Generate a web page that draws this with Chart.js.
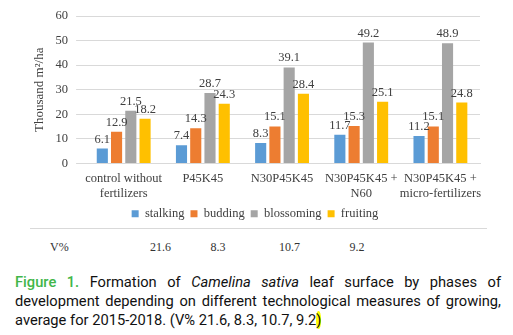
<!DOCTYPE html>
<html lang="en">
<head>
  <meta charset="UTF-8">
  <title>Camelina sativa leaf surface</title>
  <script src="https://cdn.jsdelivr.net/npm/chart.js"></script>
  <style>
    html, body { margin: 0; padding: 0; background: #fff; }
    body { width: 513px; height: 335px; position: relative; overflow: hidden; }
    #chartBox { position: absolute; left: 0; top: 0; width: 513px; height: 230px; }
    .sep { position: absolute; left: 30px; top: 228px; width: 457px; height: 1px; background: #d9d9d9; }
    .vrow { position: absolute; top: 240px; font-family: "Liberation Serif", serif; font-size: 12px; color: #333; }
    .caption {
      position: absolute; left: 15px; top: 273px; width: 486px;
      font-family: Roboto, "Noto Sans", sans-serif; font-size: 14.7px; line-height: 19px;
      color: #111; text-align: justify;
    }
    .caption b { color: #41b649; font-weight: 500; }
    .hl { background: #ffff00; border-radius: 45%; }
  </style>
</head>
<body>
  <div class="sep"></div>
  <div id="chartBox"><canvas id="chart"></canvas></div>
  <div id="vrow"></div>
  <div class="caption"><b>Figure 1.</b> Formation of <i>Camelina sativa</i> leaf surface by phases of development depending on different technological measures of growing, average for 2015-2018. (V% 21.6, 8.3, 10.7, 9.2<span class="hl">)</span></div>

  <script>
    const categories = [
      ["control without", "fertilizers"],
      "P45K45",
      "N30P45K45",
      ["N30P45K45 +", "N60"],
      ["N30P45K45 +", "micro-fertilizers"]
    ];
    const stalking   = [6.1, 7.4, 8.3, 11.7, 11.2];
    const budding    = [12.9, 14.3, 15.1, 15.3, 15.1];
    const blossoming = [21.5, 28.7, 39.1, 49.2, 48.9];
    const fruiting   = [18.2, 24.3, 28.4, 25.1, 24.8];
    const vPercent = ["21.6", "8.3", "10.7", "9.2"];
    const vPercentX = [160, 218, 289, 357];

    // V% row under the chart
    const vrow = document.getElementById("vrow");
    const lab = document.createElement("div");
    lab.className = "vrow"; lab.style.left = "50px"; lab.textContent = "V%";
    vrow.appendChild(lab);
    vPercent.forEach((v, i) => {
      const d = document.createElement("div");
      d.className = "vrow";
      d.style.left = (vPercentX[i] - 10) + "px";
      d.style.width = "20px";
      d.style.textAlign = "center";
      d.textContent = v;
      vrow.appendChild(d);
    });

    const serif = "'Liberation Serif', 'Times New Roman', serif";

    const valueLabels = {
      id: "valueLabels",
      afterDatasetsDraw(chart) {
        const ctx = chart.ctx;
        ctx.save();
        ctx.font = "12.5px " + serif;
        ctx.fillStyle = "#404040";
        ctx.textAlign = "center";
        ctx.textBaseline = "bottom";
        chart.data.datasets.forEach((ds, i) => {
          chart.getDatasetMeta(i).data.forEach((bar, j) => {
            ctx.fillText(ds.data[j].toFixed(1), bar.x, bar.y - 3);
          });
        });
        ctx.restore();
      }
    };

    new Chart(document.getElementById("chart"), {
      type: "bar",
      data: {
        labels: categories,
        datasets: [
          { label: "stalking", data: stalking, backgroundColor: "#5b9bd5" },
          { label: "budding", data: budding, backgroundColor: "#ed7d31" },
          { label: "blossoming", data: blossoming, backgroundColor: "#a5a5a5" },
          { label: "fruiting", data: fruiting, backgroundColor: "#ffc000" }
        ]
      },
      options: {
        responsive: true,
        maintainAspectRatio: false,
        animation: false,
        layout: { padding: { left: 30, right: 33, top: 16, bottom: 0 } },
        datasets: { bar: { categoryPercentage: 0.72, barPercentage: 0.78 } },
        plugins: {
          legend: {
            position: "bottom",
            labels: {
              boxWidth: 7, boxHeight: 7, padding: 6,
              color: "#404040",
              font: { family: serif, size: 12.5 }
            }
          },
          tooltip: { enabled: false }
        },
        scales: {
          x: {
            grid: { display: false },
            border: { color: "#d9d9d9" },
            ticks: { color: "#404040", font: { family: serif, size: 12.5 }, maxRotation: 0, autoSkip: false, padding: 0 }
          },
          y: {
            min: 0, max: 60,
            ticks: { stepSize: 10, color: "#404040", font: { family: serif, size: 12.5 }, padding: 8 },
            grid: { color: "#d9d9d9" },
            border: { display: false },
            title: { display: true, text: "Thousand m²/ha", color: "#404040", font: { family: serif, size: 13 }, padding: { top: 2, bottom: 0 } }
          }
        }
      },
      plugins: [valueLabels]
    });
  </script>
</body>
</html>
